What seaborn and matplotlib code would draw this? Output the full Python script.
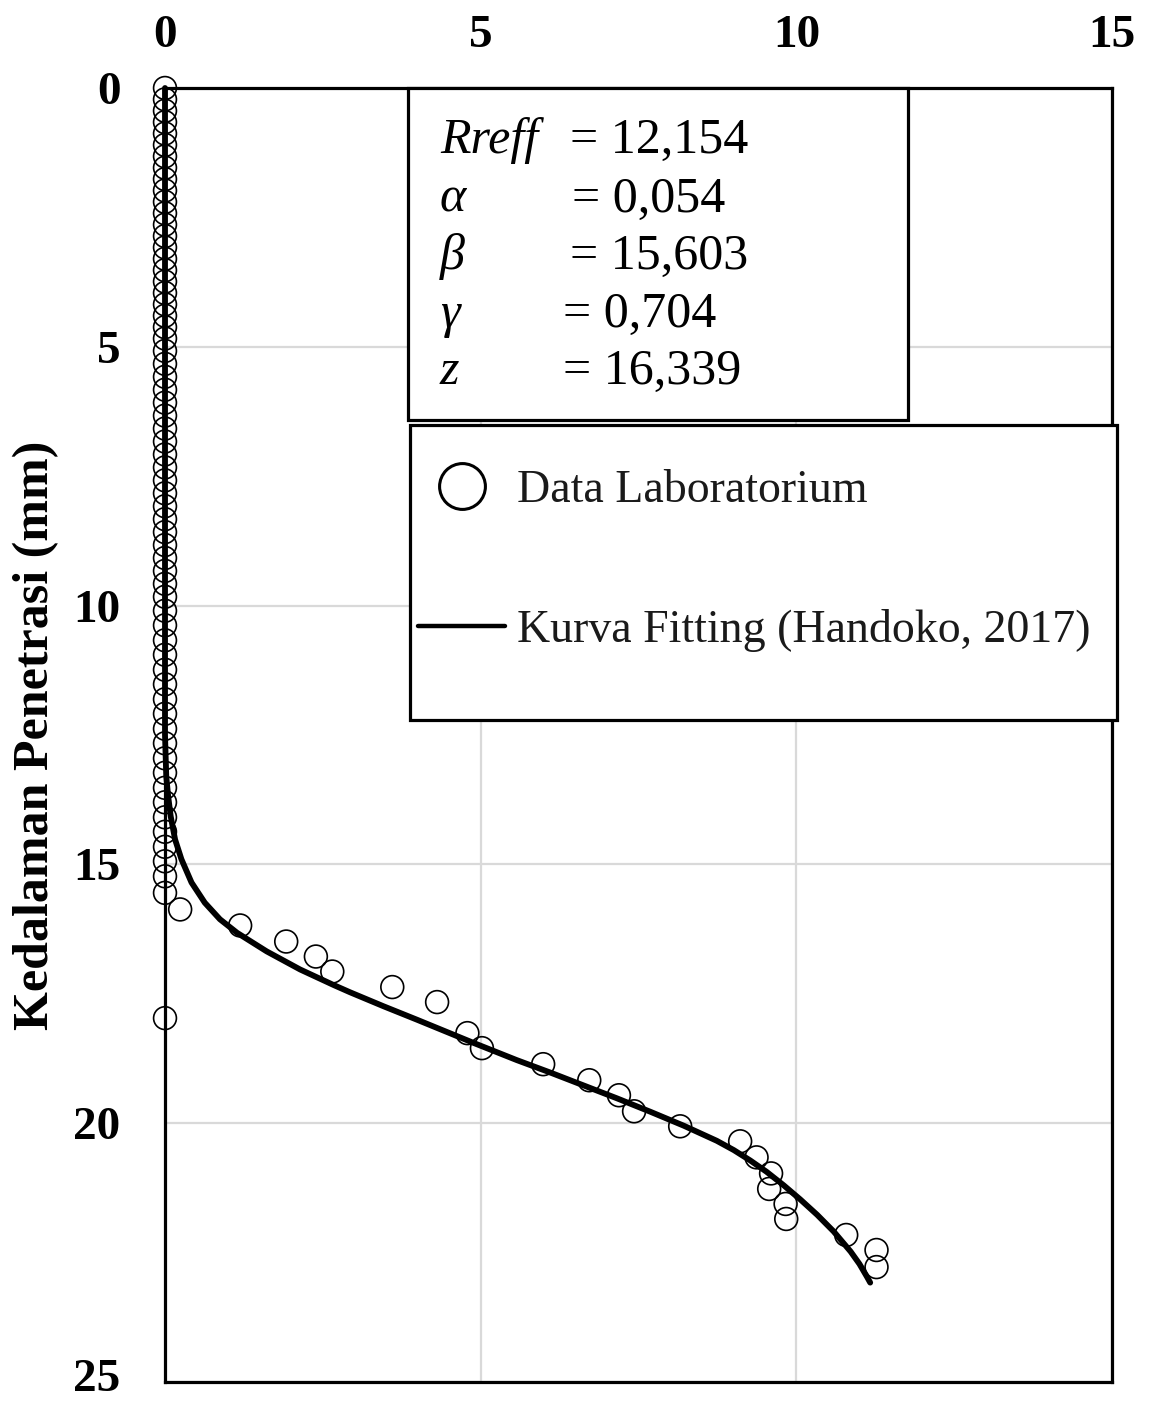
import matplotlib
matplotlib.use("Agg")
import matplotlib.pyplot as plt
import matplotlib.transforms as mtransforms
import seaborn as sns
import pandas as pd
from matplotlib.patches import Rectangle
from matplotlib.lines import Line2D

# ---------------- data ----------------
# laboratory points: load (x) and penetration depth (y, mm)
lab_load = [
    0, 0, 0, 0, 0, 0, 0, 0, 0, 0, 0, 0, 0, 0, 0, 0, 0, 0, 0, 0, 0, 0, 0,
    0, 0, 0, 0, 0, 0, 0, 0, 0, 0, 0, 0, 0, 0, 0, 0, 0, 0, 0, 0,
    0, 0, 0, 0, 0, 0, 0, 0, 0, 0, 0, 0, 0, 0, 0, 0, 0, 0, 0, 0,
    0.24, 1.19, 1.92, 2.39, 2.65, 3.60, 4.31, 0.0, 4.79, 5.02, 5.99, 6.72,
    7.19, 7.43, 8.16, 9.11, 9.37, 9.60, 9.57, 9.83, 9.84, 10.79, 11.27, 11.27,
]
lab_depth = [
    0.00, 0.22, 0.44, 0.66, 0.88, 1.10, 1.32, 1.54, 1.76, 1.98, 2.20, 2.42,
    2.64, 2.86, 3.08, 3.30, 3.52, 3.74, 3.96, 4.18, 4.40, 4.62, 4.84,
    5.08, 5.33, 5.58, 5.83, 6.08, 6.33, 6.58, 6.83, 7.08, 7.33, 7.58, 7.83,
    8.08, 8.33, 8.58, 8.83, 9.08, 9.33, 9.58, 9.83,
    10.10, 10.38, 10.67, 10.95, 11.24, 11.52, 11.81, 12.09, 12.38, 12.66,
    12.95, 13.23, 13.52, 13.80, 14.09, 14.37, 14.66, 14.94, 15.23, 15.55,
    15.87, 16.18, 16.49, 16.78, 17.07, 17.37, 17.66, 17.97, 18.26, 18.55,
    18.86, 19.17, 19.46, 19.77, 20.06, 20.35, 20.66, 20.97, 21.27, 21.56,
    21.85, 22.16, 22.45, 22.78,
]

# fitted curve (Handoko, 2017)
fit_load = [0.00, 0.00, 0.02, 0.05, 0.09, 0.16, 0.26, 0.42, 0.63, 0.87, 1.14,
            1.61, 2.14, 2.67, 2.93, 3.46, 3.99, 4.45, 4.89, 5.57, 6.10, 6.63,
            7.16, 7.69, 8.22, 8.74, 9.01, 9.27, 9.53, 9.80, 10.06, 10.33,
            10.59, 10.86, 11.00, 11.12, 11.17]
fit_depth = [0.00, 12.50, 13.30, 13.68, 14.07, 14.52, 14.90, 15.35, 15.74,
             16.06, 16.32, 16.68, 17.03, 17.33, 17.47, 17.74, 18.00, 18.23,
             18.45, 18.78, 19.02, 19.27, 19.52, 19.78, 20.05, 20.34, 20.52,
             20.72, 20.94, 21.20, 21.47, 21.77, 22.09, 22.48, 22.72, 22.97,
             23.08]

x_ticks = [0, 5, 10, 15]
y_ticks = [0, 5, 10, 15, 20, 25]
param_names = ["Rreff", "α", "β", "γ", "z"]
param_values = ["= 12,154", "= 0,054", "= 15,603", "= 0,704", "= 16,339"]
legend_labels = ["Data Laboratorium", "Kurva Fitting (Handoko, 2017)"]
y_label = "Kedalaman Penetrasi (mm)"

# ---------------- figure ----------------
W, H, DPI = 1154, 1402, 100
sns.set_theme(style="white")
plt.rcParams["font.family"] = ["Liberation Serif", "DejaVu Serif"]
for key in ["text.color", "axes.labelcolor", "xtick.color", "ytick.color"]:
    plt.rcParams[key] = "black"

def fx(px):
    return px / W

def fy(py):
    return 1 - py / H

fig = plt.figure(figsize=(W / DPI, H / DPI), dpi=DPI)
fig.patch.set_facecolor("white")
ax = fig.add_axes([fx(165), fy(1382), fx(1112) - fx(165), fy(88) - fy(1382)])

df_lab = pd.DataFrame({"load": lab_load, "depth": lab_depth})
df_fit = pd.DataFrame({"load": fit_load, "depth": fit_depth})

sns.scatterplot(data=df_lab, x="load", y="depth", marker="o", s=270,
                facecolor="none", edgecolor="black", linewidth=1.2,
                ax=ax, zorder=3, clip_on=False, legend=False)
ax.collections[-1].set_facecolor("none")

sns.lineplot(data=df_fit, x="load", y="depth", sort=False, estimator=None,
             color="black", linewidth=4.2, ax=ax, zorder=4, legend=False)
for ln in ax.lines:
    ln.set_clip_on(False)
    ln.set_solid_joinstyle("round")

ax.set_xlim(0, 15)
ax.set_ylim(25, 0)
ax.xaxis.tick_top()
ax.set_xticks(x_ticks)
ax.set_yticks(y_ticks)
ax.set_xticklabels([str(t) for t in x_ticks], fontsize=34, fontweight="bold",
                   color="black")
ax.set_yticklabels([str(t) for t in y_ticks], fontsize=34, fontweight="bold",
                   color="black")
ax.tick_params(axis="x", length=0, pad=22)
ax.tick_params(axis="y", length=0, pad=32)
# nudge the bottom-most y label up slightly so it stays inside the canvas
last_lbl = ax.get_yticklabels()[-1]
last_lbl.set_transform(last_lbl.get_transform() +
                       mtransforms.ScaledTranslation(0, 5 / 72, fig.dpi_scale_trans))
ax.set_xlabel("")
ax.set_ylabel(y_label, fontsize=36, fontweight="bold", color="black")
ax.yaxis.set_label_coords(-0.112, 0.5)

ax.grid(True, color="#d9d9d9", linewidth=1.6)
ax.set_axisbelow(True)
for sp in ax.spines.values():
    sp.set_color("black")
    sp.set_linewidth(2.3)
    sp.set_zorder(2.5)

# parameter box
ax.add_patch(Rectangle((fx(408), fy(420)), fx(908) - fx(408), fy(88) - fy(420),
                       transform=fig.transFigure, facecolor="white",
                       edgecolor="black", linewidth=2.3, zorder=5, clip_on=False))
baselines = [153, 212, 269, 327, 384]
val_x = [570, 572, 570, 563, 563]
for name, val, by, vx in zip(param_names, param_values, baselines, val_x):
    ax.text(fx(440), fy(by), name, transform=fig.transFigure, fontsize=36,
            style="italic", va="baseline", ha="left", zorder=6, color="black")
    ax.text(fx(vx), fy(by), val, transform=fig.transFigure, fontsize=36,
            va="baseline", ha="left", zorder=6, color="black")

# legend box
ax.add_patch(Rectangle((fx(410), fy(720)), fx(1117) - fx(410), fy(425) - fy(720),
                       transform=fig.transFigure, facecolor="white",
                       edgecolor="black", linewidth=2.3, zorder=5, clip_on=False))
handles = [
    Line2D([], [], marker="o", linestyle="", markerfacecolor="none",
           markeredgecolor="black", markersize=33, markeredgewidth=2.2),
    Line2D([], [], color="black", linewidth=3.2),
]
leg = ax.legend(handles, legend_labels, loc="upper left",
                bbox_to_anchor=(fx(418), fy(470)), bbox_transform=fig.transFigure,
                frameon=False, borderpad=0, borderaxespad=0,
                handlelength=1.9, handletextpad=0.25, labelspacing=2.1,
                prop={"family": "Liberation Serif", "size": 33},
                labelcolor="#1a1a1a")
leg.set_zorder(7)

fig.savefig("out.png", dpi=DPI, facecolor="white")
